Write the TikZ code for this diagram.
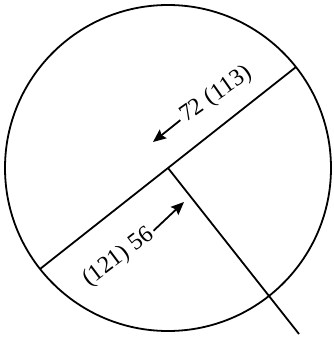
\documentclass[tikz,border=0pt]{standalone}
\usepackage{fontspec}
\setmainfont{Liberation Serif}
\usetikzlibrary{arrows.meta}
\begin{document}
\begin{tikzpicture}[x=1pt,y=-1pt,
  edge/.style={line width=1.8pt},
  lbl/.style={font=\fontsize{24}{28}\selectfont, inner sep=0pt},
  arr/.style={line width=1.8pt, shorten <=3pt, -{Stealth[length=13pt,width=11pt,inset=2pt]}}]
\useasboundingbox (0,0) rectangle (333,337);
\coordinate (cen) at (168,168);
\coordinate (d1) at (296,67);
\coordinate (d2) at (40,269);
\coordinate (pend) at (299,334);
\draw[edge] (cen) circle[radius=163pt];
\draw[edge] (d1) -- (d2);
\draw[edge] (cen) -- (pend);
\node[lbl, rotate=35, anchor=base west] (l1) at (186,123) {72 (113)};
\node[lbl, rotate=37, anchor=base west] (l2) at (89,287) {(121) 56};
\coordinate (t1) at (153,142);
\coordinate (t2) at (184,202);
\draw[arr] (l1.west) -- (t1);
\draw[arr] (l2.east) -- (t2);
\end{tikzpicture}
\end{document}
